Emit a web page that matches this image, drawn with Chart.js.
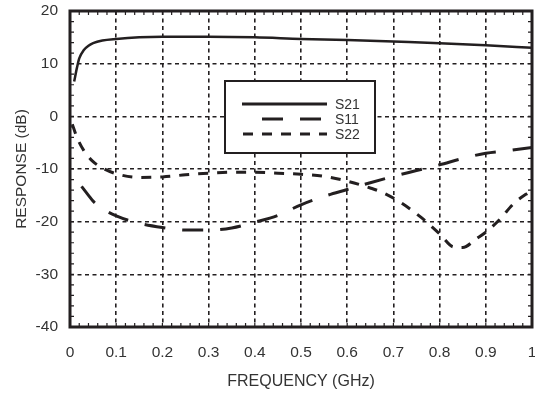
<!DOCTYPE html>
<html>
<head>
<meta charset="utf-8">
<script src="https://cdn.jsdelivr.net/npm/chart.js@4.4.0/dist/chart.umd.min.js"></script>
<style>
  body { margin: 0; background: #fff; }
</style>
</head>
<body>
<canvas id="graficoResposta" width="535" height="394"></canvas>
<script>
// dados (GHz, dB)
const freqS21 = [0.009, 0.015, 0.02, 0.03, 0.04, 0.05, 0.07, 0.1, 0.15, 0.2, 0.3, 0.4, 0.5, 0.6, 0.7, 0.8, 0.9, 1.0];
const valS21  = [6.6, 9.2, 11.0, 12.6, 13.4, 13.9, 14.4, 14.7, 15.0, 15.1, 15.1, 15.0, 14.7, 14.5, 14.2, 13.9, 13.5, 13.0];

const freqS11 = [0.025, 0.04, 0.05, 0.07, 0.1, 0.15, 0.2, 0.25, 0.3, 0.35, 0.4, 0.45, 0.5, 0.55, 0.6, 0.65, 0.7, 0.75, 0.8, 0.85, 0.9, 0.95, 1.0];
const valS11  = [-13.3, -15.0, -16.1, -17.5, -18.9, -20.3, -21.1, -21.6, -21.6, -21.2, -20.1, -18.8, -16.8, -15.2, -13.9, -12.6, -11.4, -10.3, -9.2, -8.0, -7.0, -6.5, -5.9];

const freqS22 = [0.005, 0.015, 0.03, 0.05, 0.07, 0.1, 0.15, 0.2, 0.25, 0.3, 0.35, 0.4, 0.45, 0.5, 0.55, 0.6, 0.65, 0.68, 0.72, 0.76, 0.8, 0.83, 0.85, 0.88, 0.9, 0.93, 0.96, 1.0];
const valS22  = [-1.5, -4.0, -6.5, -8.6, -9.8, -10.9, -11.6, -11.5, -11.1, -10.8, -10.6, -10.6, -10.8, -11.0, -11.4, -12.3, -13.6, -14.6, -16.6, -19.2, -22.3, -24.8, -24.9, -23.2, -22.0, -19.6, -16.6, -14.0];

const xTicks = [0, 0.1, 0.2, 0.3, 0.4, 0.5, 0.6, 0.7, 0.8, 0.9, 1];
const yTicks = [-40, -30, -20, -10, 0, 10, 20];

const preto = '#231f20';
const fonte = "'Liberation Sans', Arial, Helvetica, sans-serif";

function pontos(xs, ys) {
  return xs.map((x, i) => ({ x: x, y: ys[i] }));
}

// moldura, marcas menores e legenda dentro do gráfico
const moldura = {
  id: 'moldura',
  afterDraw(chart) {
    const ctx = chart.ctx;
    const a = chart.chartArea;
    const xs = chart.scales.x;
    const ys = chart.scales.y;
    ctx.save();
    ctx.strokeStyle = preto;
    ctx.setLineDash([]);

    // marcas menores
    ctx.lineWidth = 1.2;
    ctx.beginPath();
    for (let v = 0; v <= 1.0001; v += 0.02) {
      const p = xs.getPixelForValue(v);
      ctx.moveTo(p, a.bottom); ctx.lineTo(p, a.bottom - 4);
      ctx.moveTo(p, a.top); ctx.lineTo(p, a.top + 4);
    }
    for (let v = -40; v <= 20; v += 2) {
      const p = ys.getPixelForValue(v);
      ctx.moveTo(a.left, p); ctx.lineTo(a.left + 4, p);
      ctx.moveTo(a.right, p); ctx.lineTo(a.right - 4, p);
    }
    ctx.stroke();

    // moldura
    ctx.lineWidth = 3;
    ctx.strokeRect(a.left, a.top, a.right - a.left, a.bottom - a.top);

    // legenda
    const bx = a.left + 155, by = a.top + 70, bw = 150, bh = 72;
    ctx.fillStyle = '#fff';
    ctx.fillRect(bx, by, bw, bh);
    ctx.lineWidth = 2;
    ctx.strokeRect(bx, by, bw, bh);

    const linhas = [
      { start: 17, end: 102 },
      { start: 37, end: 97 },
      { start: 18, end: 102 }
    ];
    chart.data.datasets.forEach((ds, i) => {
      const y = by + 23 + i * 15;
      const l = linhas[i];
      ctx.lineWidth = 3;
      ctx.setLineDash(ds.borderDash || []);
      ctx.beginPath();
      ctx.moveTo(bx + l.start, y);
      ctx.lineTo(bx + l.end, y);
      ctx.stroke();
      ctx.setLineDash([]);
      ctx.fillStyle = '#333';
      ctx.font = '14px ' + fonte;
      ctx.textBaseline = 'middle';
      ctx.textAlign = 'left';
      ctx.fillText(ds.label, bx + 110, y + 1);
    });
    ctx.restore();
  }
};

const ctxResposta = document.getElementById('graficoResposta').getContext('2d');
const graficoResposta = new Chart(ctxResposta, {
  type: 'line',
  data: {
    datasets: [{
      label: 'S21',
      data: pontos(freqS21, valS21),
      borderColor: preto,
      borderWidth: 2.5,
      borderDash: [],
      pointRadius: 0,
      cubicInterpolationMode: 'monotone',
      fill: false
    }, {
      label: 'S11',
      data: pontos(freqS11, valS11),
      borderColor: preto,
      borderWidth: 3,
      borderDash: [21, 17],
      pointRadius: 0,
      cubicInterpolationMode: 'monotone',
      fill: false
    }, {
      label: 'S22',
      data: pontos(freqS22, valS22),
      borderColor: preto,
      borderWidth: 3,
      borderDash: [10, 9],
      pointRadius: 0,
      cubicInterpolationMode: 'monotone',
      fill: false
    }]
  },
  options: {
    responsive: false,
    animation: false,
    layout: { padding: { top: 11, right: 3, left: 0, bottom: 0 } },
    plugins: {
      legend: { display: false },
      tooltip: { enabled: false }
    },
    scales: {
      x: {
        type: 'linear',
        min: 0,
        max: 1,
        afterFit(scale) {
          scale.height = 67;
          scale.paddingLeft = 0;
          scale.paddingRight = 0;
        },
        afterBuildTicks(scale) { scale.ticks = xTicks.map(v => ({ value: v })); },
        ticks: {
          padding: 16,
          color: '#333',
          font: { family: fonte, size: 15.5 },
          maxRotation: 0,
          callback: v => String(+v.toFixed(1))
        },
        grid: { color: preto, lineWidth: 1.6, drawTicks: false },
        border: { display: false, dash: [4, 3.5] },
        title: {
          display: true,
          text: 'FREQUENCY (GHz)',
          color: '#333',
          font: { family: fonte, size: 16 },
          padding: { top: 0, bottom: 3 }
        }
      },
      y: {
        type: 'linear',
        min: -40,
        max: 20,
        afterFit(scale) {
          scale.width = 70;
          scale.paddingTop = 0;
          scale.paddingBottom = 0;
        },
        afterBuildTicks(scale) { scale.ticks = yTicks.map(v => ({ value: v })); },
        ticks: {
          padding: 12,
          color: '#333',
          font: { family: fonte, size: 15.5 }
        },
        grid: { color: preto, lineWidth: 1.6, drawTicks: false },
        border: { display: false, dash: [4, 3.5] },
        title: {
          display: true,
          text: 'RESPONSE (dB)',
          color: '#333',
          font: { family: fonte, size: 15.5 },
          padding: { top: 12, bottom: 0 }
        }
      }
    }
  },
  plugins: [moldura]
});
</script>
</body>
</html>
